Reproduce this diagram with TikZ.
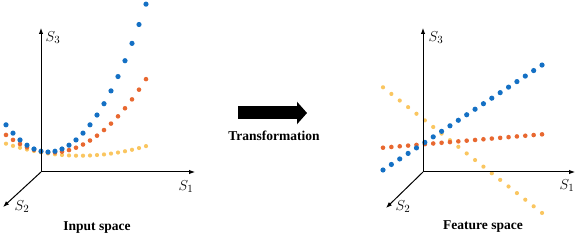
\documentclass[tikz,border=0pt]{standalone}
\usepackage{fontspec}
\setmainfont{Liberation Serif}
\usetikzlibrary{arrows.meta,positioning}
\definecolor{ptblue}{RGB}{20,112,196}
\definecolor{ptorange}{RGB}{232,104,48}
\definecolor{ptyellow}{RGB}{250,198,96}

\begin{document}
\begin{tikzpicture}[
				x=1pt, y=-1pt,
				axis/.style = {-{Latex[length=6pt,width=4.5pt]}, line width=1pt},
				axlabel/.style = {font=\fontsize{15}{17}\selectfont, inner sep=0pt},
				caption/.style = {font=\bfseries\fontsize{13.5}{15}\selectfont, inner sep=0pt},
				bigarrow/.style = {line width=13pt, -{Triangle[length=10pt,width=22pt]}}
				]
				
				\useasboundingbox (0,0) rectangle (584,240);
				
				\coordinate (o1) at (41,172);
				\coordinate (s1a) at (195,172);
				\coordinate (s3a) at (41,28);
				\coordinate (s2a) at (3,207);
				
				\coordinate (o2) at (423,172);
				\coordinate (s1b) at (575,172);
				\coordinate (s3b) at (423,28);
				\coordinate (s2b) at (386,208);
				
				\foreach \k in {0,...,20} {
					\pgfmathsetmacro\px{6+7*\k}
					\pgfmathsetmacro\py{155.7-0.0022*(\px-80)^2}
					\fill[ptyellow] (\px,\py) circle (2.1pt);
					\pgfmathsetmacro\py{152.5-0.0083*(\px-52)^2}
					\fill[ptorange] (\px,\py) circle (2.3pt);
					\pgfmathsetmacro\py{152-0.0154*(\px-48)^2}
					\fill[ptblue] (\px,\py) circle (2.6pt);
				}
				
				\foreach \k in {0,...,19} {
					\pgfmathsetmacro\px{383+8.37*\k}
					\fill[ptyellow] (\px,{87.3+0.79*(\px-383)}) circle (2.1pt);
					\fill[ptorange] (\px,{147.7-0.084*(\px-383)}) circle (2.3pt);
					\fill[ptblue] (\px,{170-0.66*(\px-383)}) circle (2.6pt);
				}
				
				\draw[axis] (o1) -- (s1a);
				\draw[axis] (o1) -- (s3a);
				\draw[axis] (o1) -- (s2a);
				\draw[axis] (o2) -- (s1b);
				\draw[axis] (o2) -- (s3b);
				\draw[axis] (o2) -- (s2b);
				
				\node[axlabel] (l3a) at (53,38) {$S_3$};
				\node[axlabel] (l1a) at (186,187) {$S_1$};
				\node[axlabel] (l2a) at (22,207) {$S_2$};
				\node[axlabel] (l3b) at (436,38) {$S_3$};
				\node[axlabel] (l1b) at (567,186) {$S_1$};
				\node[axlabel] (l2b) at (403,207) {$S_2$};
				
				\node[caption] (inp) at (97,228) {Input space};
				\node[caption] (feat) at (483,227) {Feature space};
				
				\coordinate (tfrom) at (238,113);
				\coordinate (tto) at (307,113);
				\draw[bigarrow] (tfrom) -- (tto);
				\node[caption] (trans) at (274,136) {Transformation};
			\end{tikzpicture}
\end{document}
